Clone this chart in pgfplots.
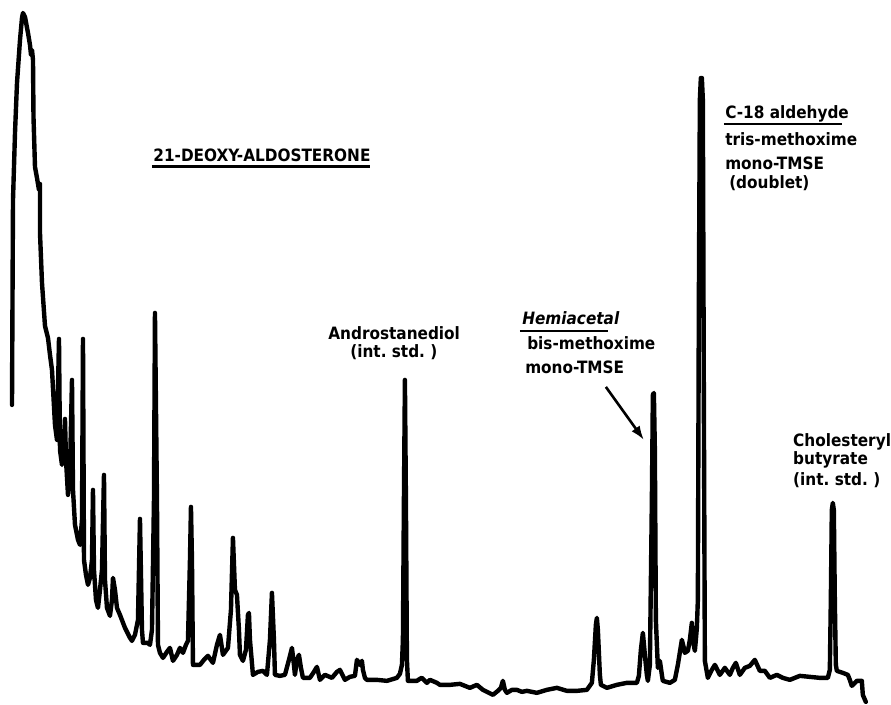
\documentclass[border=0pt]{standalone}
\usepackage{pgfplots}
\pgfplotsset{compat=1.18}
\usetikzlibrary{arrows.meta}
\usepackage{fontspec}
\setmainfont{DejaVu Sans Condensed}[BoldFont={DejaVu Sans Condensed Bold},BoldItalicFont={DejaVu Sans Condensed Bold Oblique}]
\newcommand{\lab}{\fontsize{8.5}{10}\selectfont\bfseries}
\begin{document}
\begin{tikzpicture}
\begin{axis}[hide axis, scale only axis, width=445.5pt, height=352pt,
  xmin=0, xmax=891, ymin=0, ymax=704, y dir=reverse, clip=false]
\path (axis cs:0,0) rectangle (axis cs:891,704);
\addplot[black, line width=2.2pt, line join=round, line cap=round] coordinates {
(12,405)(12.5,300)(13,200)(15,133)(17,83)(20,40)(22,18)(23,13)(25,17)(28,33)(30,45)(31,55)(32,50)(33,60)
(33.5,117)(35,167)(37,178)(39,190)(40,184)(40,233)(42,283)(45,326)(48,338)(50,355)(52,370)(55,425)(57,440)(59,339)
(60,450)(62,465)(64,440)(65,419)(66,460)(68,495)(70,470)(72,380)(73,490)(75,525)(78,540)(80,545)(82,520)(83,339)
(84,560)(86,575)(88,585)(90,578)(92,560)(93,490)(94,570)(96,600)(98,608)(100,590)(102,570)(104,475)(105,580)
(107,608)(110,616)(112,600)(113,578)(115,590)(117,608)(120,615)(125,628)(130,638)(132,641)(135,635)(138,620)
(140,519)(142,630)(143,643)(148,643)(150,645)(152,630)(154,500)(155,313)(157,500)(158,645)(160,653)(163,658)
(167,652)(170,648)(173,661)(177,655)(180,648)(183,653)(186,645)(188,641)(190,560)(191,507)(192,560)(193,665)
(200,665)(204,660)(208,656)(213,663)(217,645)(220,635)(223,655)(228,648)(231,610)(233,538)(235,590)(237,595)
(239,630)(240,655)(243,661)(246,650)(248,615)(249,613)(250,640)(253,675)(258,672)(263,671)(267,675)(270,640)
(272,593)(274,640)(275,675)(280,676)(285,675)(289,660)(292,648)(294,665)(295,675)(297,660)(299,655)(301,668)
(303,678)(310,678)(314,672)(317,667)(320,680)(325,675)(332,678)(337,672)(340,670)(345,680)(350,677)(355,676)
(357,660)(360,665)(362,661)(363,670)(365,678)(367,680)(377,680)(387,681)(397,678)(400,674)(402,665)(403,640)
(404,500)(405,380)(406,500)(407,660)(408,681)(417,681)(420,679)(422,678)(427,683)(430,680)(437,683)(440,685)
(450,685)(460,684)(465,686)(470,688)(477,685)(483,690)(493,695)(498,691)(501,688)(503,681)(505,690)(507,693)
(512,690)(517,690)(522,692)(527,691)(537,693)(547,690)(557,688)(567,691)(577,691)(587,690)(592,683)(594,660)
(596,625)(597,618)(598,630)(600,675)(601,685)(607,688)(617,685)(627,683)(637,683)(639,676)(641,650)(643,633)
(645,655)(647,675)(648,681)(650,665)(652,500)(653,395)(654,393)(655,450)(656,620)(658,668)(660,661)(662,675)
(663,681)(670,683)(675,680)(678,665)(682,640)(684,648)(685,653)(688,651)(690,640)(692,623)(693,640)(695,651)
(696,640)(697,628)(698,600)(699,300)(700,100)(701,78)(702,78)(703,100)(704,400)(705,661)(708,678)(712,670)
(715,665)(720,675)(725,668)(730,675)(733,668)(736,663)(740,675)(745,668)(750,666)(755,660)(760,671)(765,671)
(770,678)(777,675)(783,678)(790,680)(800,676)(810,677)(820,678)(828,678)(830,670)(831,600)(832,510)(833,503)
(834,510)(835,600)(836,665)(837,671)(843,673)(848,675)(850,680)(852,686)(857,681)(862,681)(863,695)(866,702)
};
% labels
\node[anchor=base west, inner sep=0pt] at (axis cs:153,162) {\lab 21-DEOXY-ALDOSTERONE};
\draw[line width=1.2pt] (axis cs:152,166.5) -- (axis cs:370,166.5);
\node[anchor=base west, inner sep=0pt] at (axis cs:328,340) {\lab Androstanediol};
\node[anchor=base west, inner sep=0pt] at (axis cs:350,358) {\lab (int.\ std.\ )};
\node[anchor=base west, inner sep=0pt] at (axis cs:522,325) {\lab\itshape Hemiacetal};
\draw[line width=1.2pt] (axis cs:520,331) -- (axis cs:608,331);
\node[anchor=base west, inner sep=0pt] at (axis cs:527,350) {\lab bis-methoxime};
\node[anchor=base west, inner sep=0pt] at (axis cs:525,374) {\lab mono-TMSE};
\draw[line width=1.3pt, -{Latex[length=7pt,width=5pt]}] (axis cs:606,387) -- (axis cs:644,440);
\node[anchor=base west, inner sep=0pt] at (axis cs:725,119) {\lab C-18 aldehyde};
\draw[line width=1.2pt] (axis cs:724,124) -- (axis cs:842,124);
\node[anchor=base west, inner sep=0pt] at (axis cs:725,146) {\lab tris-methoxime};
\node[anchor=base west, inner sep=0pt] at (axis cs:725,170) {\lab mono-TMSE};
\node[anchor=base west, inner sep=0pt] at (axis cs:729,189) {\lab (doublet)};
\node[anchor=base west, inner sep=0pt] at (axis cs:793,447) {\lab Cholesteryl};
\node[anchor=base west, inner sep=0pt] at (axis cs:793,465) {\lab butyrate};
\node[anchor=base west, inner sep=0pt] at (axis cs:793,486) {\lab (int.\ std.\ )};
\end{axis}
\end{tikzpicture}
\end{document}
